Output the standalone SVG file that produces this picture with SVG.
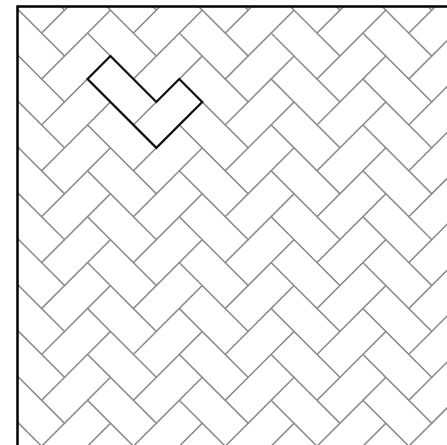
<svg xmlns="http://www.w3.org/2000/svg" xmlns:xlink="http://www.w3.org/1999/xlink" width="447" height="445" viewBox="0 0 447 445">
  <style>
    .brick { fill: none; stroke: #8f8f8f; stroke-width: 1.25; }
    .highlight { fill: none; stroke: #111; stroke-width: 2.2; stroke-linejoin: miter; }
    .frame { fill: none; stroke: #000; stroke-width: 2.5; }
  </style>
  <defs>
    <clipPath id="area">
      <rect x="17" y="6" width="430" height="439"/>
    </clipPath>
    <g id="tile">
      <polygon class="brick" points="0,0 22.95,-22.95 68.85,22.95 45.9,45.9"/>
      <polygon class="brick" points="45.9,45.9 68.85,68.85 114.75,22.95 91.8,0"/>
    </g>
    <g id="row">
      <use xlink:href="#tile" x="-183.6"/>
      <use xlink:href="#tile" x="-91.8"/>
      <use xlink:href="#tile" x="0"/>
      <use xlink:href="#tile" x="91.8"/>
      <use xlink:href="#tile" x="183.6"/>
      <use xlink:href="#tile" x="275.4"/>
    </g>
  </defs>
  <rect x="0" y="0" width="447" height="445" fill="#fff"/>
  <g id="herringbone" clip-path="url(#area)">
    <g transform="translate(87.5,79)">
      <use xlink:href="#row" y="-137.7"/>
      <use xlink:href="#row" y="-91.8"/>
      <use xlink:href="#row" y="-45.9"/>
      <use xlink:href="#row" y="0"/>
      <use xlink:href="#row" y="45.9"/>
      <use xlink:href="#row" y="91.8"/>
      <use xlink:href="#row" y="137.7"/>
      <use xlink:href="#row" y="183.6"/>
      <use xlink:href="#row" y="229.5"/>
      <use xlink:href="#row" y="275.4"/>
      <use xlink:href="#row" y="321.3"/>
      <use xlink:href="#row" y="367.2"/>
    </g>
  </g>
  <g id="highlight-pair">
    <polygon class="highlight" points="87.5,79 110.45,56.05 156.35,101.95 179.3,79 202.25,101.95 156.35,147.85"/>
  </g>
  <g id="frame">
    <path class="frame" d="M17.5,446 V6.5 H448"/>
  </g>
</svg>
